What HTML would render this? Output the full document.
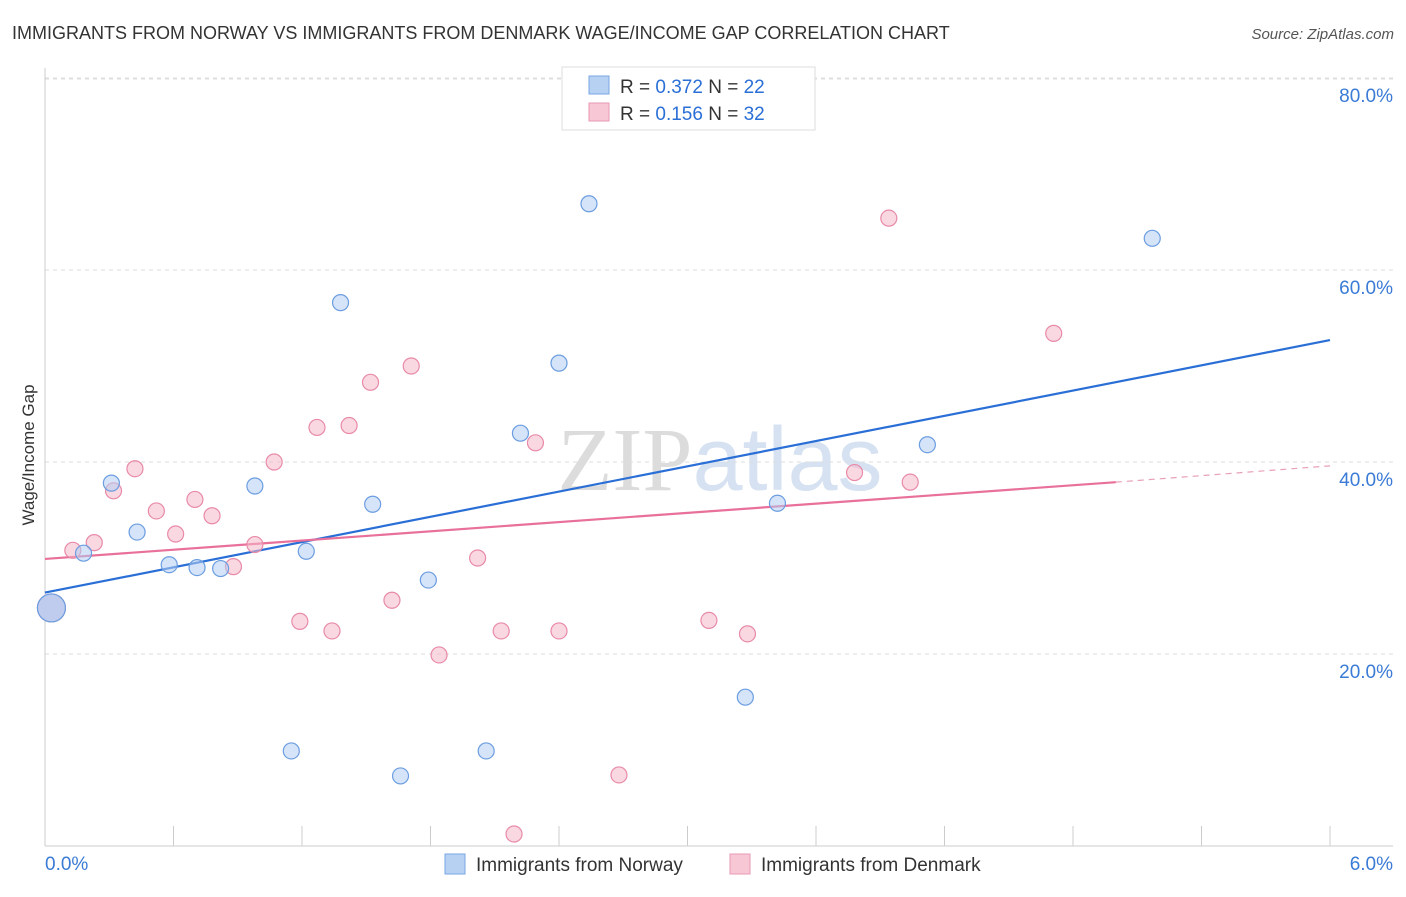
<!DOCTYPE html>
<html><head><meta charset="utf-8"><style>
body{margin:0;background:#fff;font-family:"Liberation Sans",sans-serif}
svg text{font-family:"Liberation Sans",sans-serif}
</style></head><body>
<svg id="chart" width="1406" height="892" viewBox="0 0 1406 892" xmlns="http://www.w3.org/2000/svg">
<text x="12" y="39" font-size="18" fill="#333">IMMIGRANTS FROM NORWAY VS IMMIGRANTS FROM DENMARK WAGE/INCOME GAP CORRELATION CHART</text>
<text x="1394" y="39" font-size="15" fill="#555" text-anchor="end" font-style="italic">Source: ZipAtlas.com</text>
<text x="720" y="490" font-size="90" text-anchor="middle" fill="#e4e4e4"><tspan font-family="Liberation Serif" fill="#dcdcdc">ZIP</tspan><tspan fill="#d6e2f2">atlas</tspan></text>
<g id="grid"></g>
<g id="axes"></g>
<g id="lines"></g>
<g id="points"></g>
<text transform="translate(34,455) rotate(-90)" font-size="17" fill="#333" text-anchor="middle">Wage/Income Gap</text>
<g>
<rect x="562" y="67" width="253" height="63" fill="#fff" stroke="#ddd"/>
<rect x="589" y="76" width="20" height="18" fill="#b7d1f3" stroke="#7aa6e3"/>
<rect x="589" y="103" width="20" height="18" fill="#f8c7d6" stroke="#e99ab3"/>
<text x="620" y="93" font-size="19" fill="#333">R = <tspan fill="#2a6fd6">0.372</tspan>   N = <tspan fill="#2a6fd6">22</tspan></text>
<text x="620" y="120" font-size="19" fill="#333">R = <tspan fill="#2a6fd6">0.156</tspan>   N = <tspan fill="#2a6fd6">32</tspan></text>
</g>
<g>
<rect x="445" y="854" width="20" height="20" fill="#b7d1f3" stroke="#7aa6e3"/>
<text x="476" y="871" font-size="19" fill="#333">Immigrants from Norway</text>
<rect x="730" y="854" width="20" height="20" fill="#f8c7d6" stroke="#e99ab3"/>
<text x="761" y="871" font-size="19" fill="#333">Immigrants from Denmark</text>
</g>
</svg>
<script>
const yTicks=[20,40,60,80];
const yTickLabels=["20.0%","40.0%","60.0%","80.0%"];
const xTicks=[0,0.6,1.2,1.8,2.4,3.0,3.6,4.2,4.8,5.4,6.0];
const xEndLabels=["0.0%","6.0%"];
const norwayX=[0.03,0.18,0.31,0.43,0.58,0.71,0.82,0.98,1.22,1.38,1.15,1.53,1.66,1.79,2.06,2.22,2.40,2.54,3.27,3.42,4.12,5.17];
const norwayY=[24.8,30.5,37.8,32.7,29.3,29.0,28.9,37.5,30.7,56.6,9.9,35.6,7.3,27.7,9.9,43.0,50.3,66.9,15.5,35.7,41.8,63.3];
const denmarkX=[0.03,0.13,0.23,0.32,0.42,0.52,0.61,0.70,0.78,0.88,0.98,1.07,1.19,1.27,1.34,1.42,1.52,1.62,1.71,1.84,2.02,2.13,2.19,2.29,2.40,2.68,3.10,3.28,3.78,3.94,4.04,4.71];
const denmarkY=[24.8,30.8,31.6,37.0,39.3,34.9,32.5,36.1,34.4,29.1,31.4,40.0,23.4,43.6,22.4,43.8,48.3,25.6,50.0,19.9,30.0,22.4,1.25,42.0,22.4,7.4,23.5,22.1,38.9,65.4,37.9,53.4];
const norwayTrend=[[0,26.4],[6,52.7]];
const denmarkTrend=[[0,29.9],[5.0,37.9],[6,39.6]];
const NS="http://www.w3.org/2000/svg";
const sx=v=>45+v/6*1285, sy=v=>846-v/20*192;
function mk(tag,attrs,parent){const e=document.createElementNS(NS,tag);for(const k in attrs)e.setAttribute(k,attrs[k]);document.getElementById(parent).appendChild(e);return e;}
yTicks.forEach((t,i)=>{
 const g=mk('line',{x1:45,x2:1393,y1:sy(t),y2:sy(t),stroke:'#ddd','stroke-dasharray':'4,4'},'grid');
 
 
 const l=mk('text',{x:1393,y:sy(t)+24,'font-size':19,fill:'#3a7bd5','text-anchor':'end'},'axes');
 l.textContent=yTickLabels[i];
 
 
});
const tg=mk('line',{x1:45,x2:1393,y1:79,y2:79,stroke:'#ddd','stroke-dasharray':'4,4'},'grid');


const ya=mk('line',{x1:45,x2:45,y1:68,y2:846,stroke:'#ccc'},'axes');


const xa=mk('line',{x1:45,x2:1393,y1:846,y2:846,stroke:'#ccc'},'axes');


xTicks.forEach(t=>{
 const k=mk('line',{x1:sx(t),x2:sx(t),y1:826,y2:846,stroke:'#ccc'},'axes');
 
 
});
[[0,'start',45],[6,'end',1393]].forEach((d,i)=>{
 const l=mk('text',{x:d[2],y:870,'font-size':19,fill:'#3a7bd5','text-anchor':d[1]},'axes');
 l.textContent=xEndLabels[i];
 
 
});
function pts(X,Y,fill,stroke,name){
 X.forEach((x,i)=>{
  const big=i===0;
  const c=mk('circle',{cx:sx(x),cy:sy(Y[i]),r:big?14:8,fill:fill,'fill-opacity':big?0.8:0.55,stroke:stroke,'stroke-width':1.2},'points');
  
  
 });
}
pts(denmarkX,denmarkY,'#f5b8cb','#e88aa8','denmark-point');
pts(norwayX,norwayY,'#b2cdf2','#6b9de0','norway-point');
const bl=mk('line',{x1:sx(norwayTrend[0][0]),y1:sy(norwayTrend[0][1]),x2:sx(norwayTrend[1][0]),y2:sy(norwayTrend[1][1]),stroke:'#2a6fd6','stroke-width':2.2},'lines');


const pl=mk('line',{x1:sx(denmarkTrend[0][0]),y1:sy(denmarkTrend[0][1]),x2:sx(denmarkTrend[1][0]),y2:sy(denmarkTrend[1][1]),stroke:'#e8709a','stroke-width':2.2},'lines');


const pd=mk('line',{x1:sx(denmarkTrend[1][0]),y1:sy(denmarkTrend[1][1]),x2:sx(denmarkTrend[2][0]),y2:sy(denmarkTrend[2][1]),stroke:'#e8a0b8','stroke-width':1.2,'stroke-dasharray':'6,5'},'lines');


</script>
</body></html>
